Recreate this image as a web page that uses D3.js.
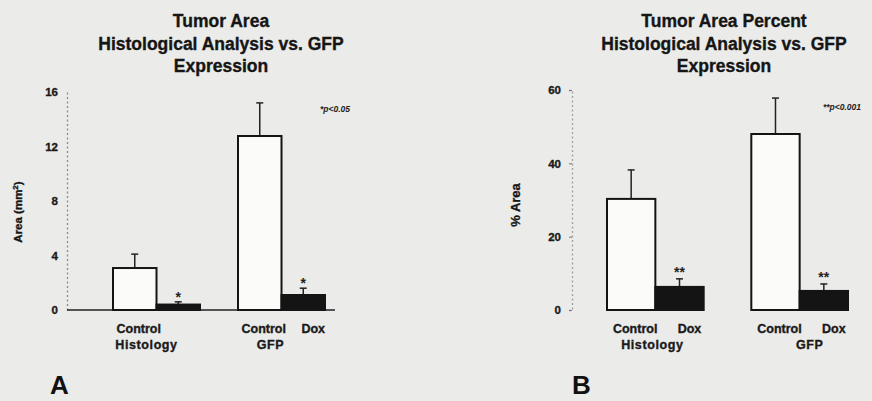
<!DOCTYPE html>
<html>
<head>
<meta charset="utf-8">
<script src="https://cdn.jsdelivr.net/npm/d3@7"></script>
<style>
  html, body { margin: 0; padding: 0; background: #ebebe9; }
  svg { display: block; font-family: "Liberation Sans", Arial, sans-serif; font-weight: bold; }
  .heavy { stroke: #1a1a1a; stroke-width: 0.35px; }
</style>
</head>
<body>
<svg id="fig" width="872" height="401"></svg>
<script>
// Data
const groups = ["Histology", "GFP"];
const conditions = ["Control", "Dox"];

// Panel A: tumor area (mm^2)
const areaMeans = [3.08, 0.4, 12.77, 1.1];
const areaErrors = [1.02, 0.2, 2.43, 0.5];
const areaStars = ["", "*", "", "*"];
const areaLabels = ["Control", "", "Control", "Dox"];
const areaTicks = [0, 4, 8, 12, 16];

// Panel B: tumor area percent
const percentMeans = [30.3, 6.3, 48.0, 5.2];
const percentErrors = [7.9, 2.2, 9.8, 1.9];
const percentStars = ["", "**", "", "**"];
const percentLabels = ["Control", "Dox", "Control", "Dox"];
const percentTicks = [0, 20, 40, 60];

const svg = d3.select("#fig");

function drawPanel(opt) {
  const g = svg.append("g");

  const y = d3.scaleLinear().domain(opt.domain).range([310, opt.yTop]);
  const xGroup = d3.scaleBand().domain(groups).range(opt.xRange)
    .paddingInner(opt.gap).paddingOuter(0);
  const xCond = d3.scaleBand().domain(conditions).range([0, xGroup.bandwidth()]);

  const rows = opt.means.map((m, i) => ({
    group: groups[Math.floor(i / 2)],
    cond: conditions[i % 2],
    mean: m,
    err: opt.errors[i],
    star: opt.stars[i],
    label: opt.labels[i]
  }));
  const bx = d => xGroup(d.group) + xCond(d.cond);

  // title
  const title = g.append("text")
    .attr("class", "heavy")
    .attr("text-anchor", "middle")
    .attr("font-size", 17.5)
    .attr("fill", "#151515");
  opt.title.forEach((t, i) => {
    title.append("tspan").attr("x", opt.titleX).attr("y", 27 + i * 22.5).text(t);
  });

  // y axis
  const axis = g.append("g")
    .attr("transform", `translate(${opt.axisX},0)`)
    .call(d3.axisLeft(y).tickValues(opt.ticks).tickSize(opt.tickSize).tickPadding(opt.tickPad));
  axis.select(".domain")
    .attr("stroke", opt.axisColor)
    .attr("stroke-width", 1.3)
    .attr("stroke-dasharray", "2,2.5");
  axis.selectAll(".tick line").attr("stroke", "#777");
  axis.selectAll(".tick text")
    .attr("class", "heavy")
    .attr("font-size", 11.5)
    .attr("font-weight", "bold")
    .attr("font-family", "Liberation Sans, Arial, sans-serif")
    .attr("fill", "#1a1a1a");

  // y label
  g.append("text")
    .attr("class", "heavy")
    .attr("transform", `translate(${opt.yLabelX},${opt.yLabelY}) rotate(-90)`)
    .attr("text-anchor", "middle")
    .attr("font-size", opt.yLabelSize)
    .attr("fill", "#151515")
    .html(opt.yLabel);

  // baseline
  if (opt.baseline) {
    g.append("line")
      .attr("x1", opt.axisX).attr("x2", opt.baseline)
      .attr("y1", y(0)).attr("y2", y(0))
      .attr("stroke", "#222").attr("stroke-width", 1.6);
  }

  // error bars (upper only)
  const eb = g.selectAll(".err").data(rows).join("g").attr("class", "err");
  eb.append("line")
    .attr("x1", d => bx(d) + xCond.bandwidth() / 2)
    .attr("x2", d => bx(d) + xCond.bandwidth() / 2)
    .attr("y1", d => y(d.mean))
    .attr("y2", d => y(d.mean + d.err))
    .attr("stroke", "#222").attr("stroke-width", 1.5);
  eb.append("line")
    .attr("x1", d => bx(d) + xCond.bandwidth() / 2 - 3.5)
    .attr("x2", d => bx(d) + xCond.bandwidth() / 2 + 3.5)
    .attr("y1", d => y(d.mean + d.err))
    .attr("y2", d => y(d.mean + d.err))
    .attr("stroke", "#222").attr("stroke-width", 1.5);

  // bars
  g.selectAll(".bar").data(rows).join("rect")
    .attr("class", "bar")
    .attr("x", d => bx(d))
    .attr("width", xCond.bandwidth())
    .attr("y", d => y(d.mean))
    .attr("height", d => y(0) - y(d.mean))
    .attr("fill", d => d.cond === "Control" ? "#fbfbfa" : "#141414")
    .attr("stroke", "#141414")
    .attr("stroke-width", 2);

  // significance stars
  g.selectAll(".star").data(rows.filter(d => d.star)).join("text")
    .attr("class", "star")
    .attr("x", d => bx(d) + xCond.bandwidth() / 2)
    .attr("y", d => y(d.mean + d.err) + opt.starDy)
    .attr("text-anchor", "middle")
    .attr("font-size", 14)
    .attr("fill", "#222")
    .text(d => d.star);

  // condition labels
  g.selectAll(".cond").data(rows.filter(d => d.label)).join("text")
    .attr("class", "cond heavy")
    .attr("x", d => bx(d) + xCond.bandwidth() / 2 + (d.cond === "Dox" ? 10 : 4))
    .attr("y", 333)
    .attr("text-anchor", "middle")
    .attr("font-size", 12.5)
    .attr("fill", "#1a1a1a")
    .text(d => d.label);

  // group labels
  g.selectAll(".grp").data(groups).join("text")
    .attr("class", "grp heavy")
    .attr("x", (d, i) => xGroup(d) + xGroup.bandwidth() / 2 + opt.groupDx[i])
    .attr("y", 349)
    .attr("text-anchor", "middle")
    .attr("font-size", 12.5)
    .attr("letter-spacing", 0.6)
    .attr("fill", "#1a1a1a")
    .text(d => d);

  // p-value note
  g.append("text")
    .attr("x", opt.noteX).attr("y", opt.noteY)
    .attr("font-size", 8.5)
    .attr("font-style", "italic")
    .attr("fill", "#222")
    .text(opt.note);

  // panel letter
  g.append("text")
    .attr("x", opt.letterX).attr("y", 394)
    .attr("font-size", 26)
    .attr("fill", "#111")
    .text(opt.letter);
}

drawPanel({
  title: ["Tumor Area", "Histological Analysis vs. GFP", "Expression"],
  titleX: 221,
  domain: [0, 16], yTop: 92, ticks: areaTicks,
  xRange: [113, 325], gap: 0.304,
  means: areaMeans, errors: areaErrors, stars: areaStars, labels: areaLabels,
  axisX: 67, tickSize: 0, tickPad: 9, axisColor: "#8a8a8a",
  yLabel: "Area (mm<tspan dy='-4' font-size='8'>2</tspan><tspan dy='4'>)</tspan>",
  yLabelX: 22, yLabelY: 212, yLabelSize: 11.5,
  baseline: 335,
  starDy: 0,
  groupDx: [-10, -11],
  note: "*p<0.05", noteX: 320, noteY: 112,
  letter: "A", letterX: 50
});

drawPanel({
  title: ["Tumor Area Percent", "Histological Analysis vs. GFP", "Expression"],
  titleX: 724,
  domain: [0, 60], yTop: 90, ticks: percentTicks,
  xRange: [607, 848], gap: 0.33,
  means: percentMeans, errors: percentErrors, stars: percentStars, labels: percentLabels,
  axisX: 572, tickSize: 3, tickPad: 8, axisColor: "#a0a0a0",
  yLabel: "% Area",
  yLabelX: 520, yLabelY: 205, yLabelSize: 13,
  baseline: null,
  starDy: -2,
  groupDx: [-3, 10],
  note: "**p<0.001", noteX: 823, noteY: 110,
  letter: "B", letterX: 572
});
</script>
</body>
</html>
